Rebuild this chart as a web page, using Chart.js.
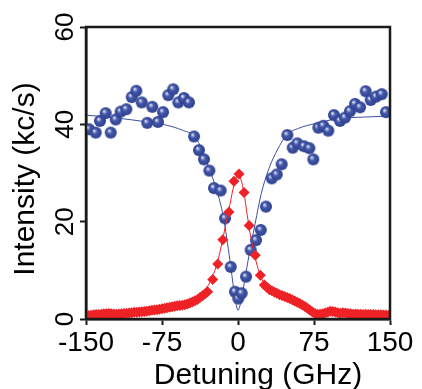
<!DOCTYPE html>
<html><head><meta charset="utf-8">
<script src="https://cdn.jsdelivr.net/npm/chart.js@4/dist/chart.umd.min.js"></script>
<style>html,body{margin:0;padding:0;background:#fff;}canvas{display:block;}</style>
</head><body>
<canvas id="c" width="422" height="389"></canvas>
<script>
// ---- data ----
const xTickValues = [-150, -75, 0, 75, 150];
const xTickLabels = ['-150', '-75', '0', '75', '150'];
const yTickValues = [0, 20, 40, 60];
const yTickLabels = ['0', '20', '40', '60'];
const xTitle = 'Detuning (GHz)';
const yTitle = 'Intensity (kc/s)';

// blue spheres (measured)
const blueX = [-147.0,-140.4,-136.2,-130.6,-125.6,-120.7,-115.8,-110.2,-104.9,-100.4,-95.0,-89.5,-84.6,-79.0,-74.0,-68.8,-63.9,-58.9,-53.3,-48.4,-43.4,-38.5,-33.6,-28.3,-23.7,-17.1,-12.8,-7.2,-3.0,0.3,3.6,7.9,12.5,17.8,22.4,27.6,33.3,38.2,43.1,48.7,54.0,58.5,65.1,70.4,74.3,79.3,84.2,89.1,94.7,100.7,105.6,110.5,115.5,120.4,126.0,131.0,136.2,141.8,146.0];
const blueY = [39.0,38.3,40.7,42.3,38.3,41.0,42.6,43.1,45.6,46.9,44.5,40.3,43.6,40.5,42.5,46.0,47.2,44.5,45.4,44.5,37.5,34.7,32.8,30.5,26.9,26.4,20.7,10.7,5.6,4.2,5.3,8.7,14.2,16.2,18.3,23.1,28.9,29.7,31.8,37.8,35.2,36.1,35.5,35.1,32.8,39.3,39.7,38.7,41.9,40.7,41.4,42.7,44.2,43.5,46.8,45.0,45.7,46.2,42.5];

// blue fit curve (read at sample detunings)
const blueFitX = [-150,-120,-90,-70,-55,-43,-35,-28,-21,-14.5,-8,-4,-2,0,2,5,10,17,23,30,37,48,60,75,100,125,150];
const blueFitY = [41.9,41.3,40.5,39.8,38.8,37.5,34.6,30.6,26.5,21.0,12.1,5.8,3.2,1.8,2.8,6.0,12.1,19.7,25.8,30.6,34.0,37.8,39.2,40.1,41.2,41.5,41.7];

// red diamonds (measured)
const redX = [-150,-147.5,-145,-142.5,-140,-137.5,-135,-132.5,-130,-127.5,-125,-122.5,-120,-117.5,-115,-112.5,-110,-107.5,-105,-102.5,-100,-97.5,-95,-92.5,-90,-87.5,-85,-82.5,-80,-77.5,-75,-72.5,-70,-67.5,-65,-62.5,-60,-57.5,-55,-52.5,-50,-47.5,-45,-42.5,-40,-37.5,-35,-32.5,-30,
  -25,-20,-15,-9,-4,1,6,11,17,22,26,
  28.5,31,33.5,36,38.5,41,43.5,46,48.5,51,53.5,56,58.5,61,63.5,66,68.5,71,73.5,76,78.5,81,83.5,86,88.5,91,93.5,96,98.5,101,103.5,106,108.5,111,113.5,116,118.5,121,123.5,126,128.5,131,133.5,136,138.5,141,143.5,146,148.5,150];
const redY = [0.6,0.7,0.75,0.85,0.9,0.95,1.0,1.1,1.1,1.15,1.1,1.05,1.0,1.05,1.1,1.15,1.2,1.25,1.3,1.4,1.4,1.45,1.5,1.55,1.6,1.7,1.8,1.85,1.9,2.0,2.1,2.2,2.3,2.4,2.5,2.6,2.7,2.75,2.8,2.95,3.1,3.3,3.5,3.75,4.0,4.4,4.8,5.2,5.6,
  8.1,11.3,16.3,22.0,28.3,29.8,26.0,19.2,13.1,9.0,7.0,
  6.5,6.0,5.8,5.5,5.3,5.0,4.85,4.6,4.4,4.2,3.95,3.7,3.45,3.2,2.9,2.55,2.2,1.8,1.45,1.15,1.0,1.0,1.1,1.25,1.4,1.6,1.55,1.45,1.3,1.2,1.3,1.25,1.15,1.1,1.0,1.05,1.0,1.0,0.95,1.0,0.9,0.9,0.9,0.85,0.85,0.85,0.8,0.8,0.75,0.7];

// red fit curve (read at sample detunings)
const redFitX = [-150,-120,-100,-80,-60,-50,-40,-33,-28,-24,-20,-16,-12,-8,-4,0,3,6,9,12,16,20,24,28,35,45,55,65,75,85,100,125,150];
const redFitY = [0.5,0.9,1.2,1.7,2.6,3.4,4.6,6.0,7.4,9.3,11.9,15.5,19.5,23.5,27.5,29.5,28.6,25.8,21.5,17.5,13.5,10.2,8.0,6.6,5.6,4.7,3.8,2.7,1.3,1.1,1.1,0.95,0.75];

// ---- styling ----
const BLUE = '#3a4fa2';
const RED = '#ee2226';
const FONT = '"Liberation Sans", Arial, Helvetica, sans-serif';

function makeBall(r) {
  const s = Math.ceil(r * 2 + 2);
  const c = document.createElement('canvas');
  c.width = s; c.height = s;
  const g = c.getContext('2d');
  const cx = s / 2, cy = s / 2;
  const grad = g.createRadialGradient(cx - r * 0.3, cy - r * 0.35, 0, cx, cy, r);
  grad.addColorStop(0, '#ffffff');
  grad.addColorStop(0.16, '#b4bce2');
  grad.addColorStop(0.42, '#4459ab');
  grad.addColorStop(1, '#2d3e8c');
  g.fillStyle = grad;
  g.beginPath(); g.arc(cx, cy, r, 0, Math.PI * 2); g.fill();
  return c;
}
const ball = makeBall(6);

const pts = (xs, ys) => xs.map((x, i) => ({ x: x, y: ys[i] }));

const framePlugin = {
  id: 'frameAndText',
  afterDatasetsDraw(chart) {
    const { ctx, chartArea: a } = chart;
    ctx.save();
    ctx.strokeStyle = '#1a1a1a';
    ctx.lineWidth = 2.5;
    ctx.strokeRect(a.left, a.top, a.right - a.left, a.bottom - a.top);
    ctx.restore();
  },
  afterDraw(chart) {
    const { ctx, scales: { x, y } } = chart;
    ctx.save();
    ctx.fillStyle = '#000';
    ctx.font = '26px ' + FONT;
    ctx.textAlign = 'center';
    ctx.textBaseline = 'alphabetic';
    yTickValues.forEach((v, i) => {
      const py = y.getPixelForValue(v);
      ctx.save();
      ctx.translate(73, py);
      ctx.rotate(-Math.PI / 2);
      ctx.fillText(yTickLabels[i], 0, 0);
      ctx.restore();
    });
    ctx.font = '30px ' + FONT;
    ctx.fillText(xTitle, 258, 384);
    ctx.save();
    ctx.translate(34, 179);
    ctx.rotate(-Math.PI / 2);
    ctx.fillText(yTitle, 0, 0);
    ctx.restore();
    ctx.restore();
  }
};

new Chart(document.getElementById('c'), {
  type: 'scatter',
  data: {
    datasets: [
      { label: 'red', data: pts(redX, redY), pointStyle: 'rectRot', pointRadius: 5.5, pointHoverRadius: 5.5,
        backgroundColor: RED, borderColor: RED, borderWidth: 0, showLine: false, order: 0 },
      { label: 'red fit', data: pts(redFitX, redFitY), showLine: true, borderColor: RED, borderWidth: 1,
        pointRadius: 0, cubicInterpolationMode: 'monotone', order: 1 },
      { label: 'blue', data: pts(blueX, blueY), pointStyle: ball, pointRadius: 6, showLine: false,
        backgroundColor: BLUE, borderColor: BLUE, order: 2 },
      { label: 'blue fit', data: pts(blueFitX, blueFitY), showLine: true, borderColor: BLUE, borderWidth: 1,
        pointRadius: 0, cubicInterpolationMode: 'monotone', order: 3 }
    ]
  },
  options: {
    responsive: false,
    animation: false,
    devicePixelRatio: 1,
    layout: { padding: { top: 27, right: 32, left: 0, bottom: 0 } },
    plugins: { legend: { display: false }, tooltip: { enabled: false } },
    scales: {
      x: {
        type: 'linear', min: -150, max: 150,
        afterBuildTicks: s => { s.ticks = xTickValues.map(v => ({ value: v })); },
        afterFit: s => { s.height = 70; },
        ticks: { color: '#000', font: { family: FONT, size: 28 }, padding: 1, maxRotation: 0,
          callback: v => xTickLabels[xTickValues.indexOf(v)] },
        grid: { drawOnChartArea: false, drawTicks: true, tickLength: 6, tickWidth: 2, tickColor: '#1a1a1a' },
        border: { display: true, color: '#1a1a1a', width: 2.5 }
      },
      y: {
        type: 'linear', min: 0, max: 60,
        afterBuildTicks: s => { s.ticks = yTickValues.map(v => ({ value: v })); },
        afterFit: s => { s.width = 86; },
        ticks: { display: false },
        grid: { drawOnChartArea: false, drawTicks: true, tickLength: 6, tickWidth: 2, tickColor: '#1a1a1a' },
        border: { display: true, color: '#1a1a1a', width: 2.5 }
      }
    }
  },
  plugins: [framePlugin]
});
</script>
</body></html>
